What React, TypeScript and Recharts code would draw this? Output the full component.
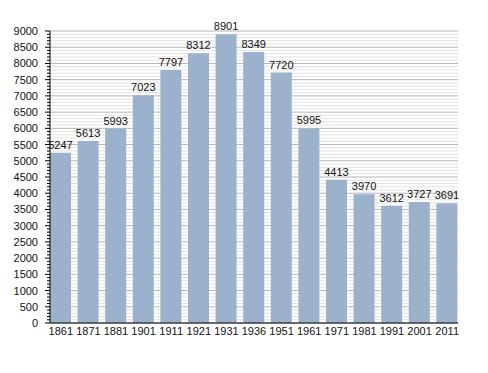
import { Bar, BarChart, CartesianGrid, LabelList, XAxis, YAxis } from "recharts";

const years = ["1861", "1871", "1881", "1901", "1911", "1921", "1931", "1936", "1951", "1961", "1971", "1981", "1991", "2001", "2011"];
const population = [5247, 5613, 5993, 7023, 7797, 8312, 8901, 8349, 7720, 5995, 4413, 3970, 3612, 3727, 3691];

// every 100 gets a minor tick, every 500 a labelled one
const yTicks = Array.from({ length: 91 }, (_, i) => i * 100);

const chartData = years.map((year, i) => ({ year, population: population[i] }));

const font = "Liberation Sans, Arial, sans-serif";

const YTick = (props: any) => {
  const { x, y, payload } = props;
  const major = payload.value % 500 === 0;
  return (
    <g>
      <line x1={x - (major ? 5 : 3)} x2={x} y1={y} y2={y} stroke="#000" strokeWidth={1} />
      {major && (
        <text x={x - 12} y={y} dy={4} textAnchor="end" fontSize={11} fontFamily={font} fill="#111">
          {payload.value}
        </text>
      )}
    </g>
  );
};

const gridLine = (props: any) => {
  const { x1, x2, y1, y2, index } = props;
  const major = index % 5 === 0;
  return (
    <line
      key={props.key}
      x1={x1}
      x2={x2}
      y1={y1}
      y2={y2}
      stroke={major ? "#b4b4b4" : "#e2e2e2"}
      strokeWidth={1}
    />
  );
};

export default function App() {
  return (
    <div style={{ position: "absolute", left: 0, top: 0 }}>
      <BarChart
        width={488}
        height={373}
        data={chartData}
        margin={{ top: 31, right: 30, bottom: 30, left: 0 }}
      >
        <CartesianGrid vertical={false} horizontal={gridLine} />
        <XAxis
          dataKey="year"
          tickLine={false}
          axisLine={{ stroke: "#000" }}
          interval={0}
          padding={{ left: -3, right: -3 }}
          tick={{ fontSize: 11, fontFamily: font, fill: "#111" }}
          tickSize={0}
          tickMargin={4}
          height={20}
        />
        <YAxis
          domain={[0, 9000]}
          ticks={yTicks}
          interval={0}
          width={50}
          tickSize={0}
          tickMargin={0}
          tickLine={false}
          axisLine={{ stroke: "#000" }}
          tick={<YTick />}
        />
        <Bar dataKey="population" fill="#9bb1cc" barSize={21} isAnimationActive={false}>
          <LabelList
            dataKey="population"
            position="top"
            offset={4}
            style={{ fontSize: 11, fontFamily: font, fill: "#111" }}
          />
        </Bar>
      </BarChart>
    </div>
  );
}
